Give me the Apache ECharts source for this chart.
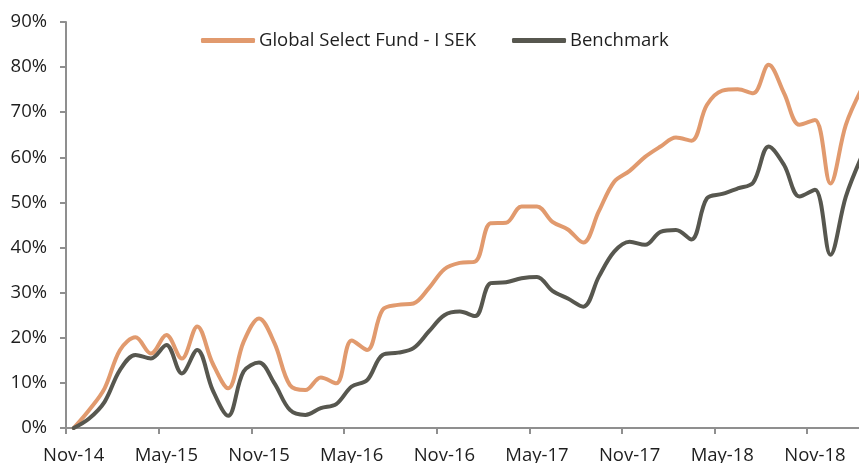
<!DOCTYPE html>
<html>
<head>
<meta charset="utf-8">
<script src="https://cdn.jsdelivr.net/npm/echarts@6/dist/echarts.min.js"></script>
<style>
html,body{margin:0;padding:0;background:#fff;overflow:hidden;}
#c{width:880px;height:463px;}
</style>
</head>
<body>
<div id="c"></div>
<script>
const categories = [
 'Nov-14','Dec-14','Jan-15','Feb-15','Mar-15','Apr-15','May-15','Jun-15','Jul-15','Aug-15','Sep-15','Oct-15',
 'Nov-15','Dec-15','Jan-16','Feb-16','Mar-16','Apr-16','May-16','Jun-16','Jul-16','Aug-16','Sep-16','Oct-16',
 'Nov-16','Dec-16','Jan-17','Feb-17','Mar-17','Apr-17','May-17','Jun-17','Jul-17','Aug-17','Sep-17','Oct-17',
 'Nov-17','Dec-17','Jan-18','Feb-18','Mar-18','Apr-18','May-18','Jun-18','Jul-18','Aug-18','Sep-18','Oct-18',
 'Nov-18','Dec-18','Jan-19','Feb-19'
];
const fundValues = [
 0, 4.0, 8.8, 17.3, 20.1, 16.5, 20.6, 15.4, 22.5, 14.3, 8.8, 19.1,
 24.3, 18.8, 9.5, 8.4, 11.2, 9.9, 19.4, 17.3, 26.2, 27.3, 27.6, 31.0,
 35.2, 36.6, 36.9, 45.4, 45.5, 49.1, 49.1, 45.7, 44.0, 41.1, 48.0, 54.6,
 57.0, 60.1, 62.4, 64.4, 63.7, 71.6, 74.8, 75.1, 74.2, 80.5, 74.2, 67.2,
 68.3, 54.2, 67.2, 75.0
];
const benchValues = [
 0, 2.1, 5.8, 12.9, 16.2, 15.4, 18.4, 12.1, 17.3, 8.4, 2.7, 12.5,
 14.5, 9.9, 4.0, 2.9, 4.4, 5.3, 9.2, 10.6, 16.2, 16.7, 17.7, 21.4,
 25.0, 25.8, 24.8, 32.1, 32.3, 33.2, 33.5, 30.4, 28.7, 26.9, 33.5, 39.1,
 41.3, 40.6, 43.5, 43.9, 41.8, 50.9, 51.9, 53.1, 54.4, 62.4, 58.3, 51.3,
 52.8, 38.4, 51.3, 60.0
];
const yTicks = [0, 10, 20, 30, 40, 50, 60, 70, 80, 90];

const FONT = 'Open Sans';
const TXT = '#1e1e1e';
const AXIS = '#8f8f8f';

const chart = echarts.init(document.getElementById('c'), null, {renderer: 'canvas'});
chart.setOption({
  animation: false,
  backgroundColor: '#fff',
  textStyle: {fontFamily: FONT},
  grid: {left: 66, right: 11, top: 22, bottom: 35, containLabel: false, outerBoundsMode: 'none'},
  legend: {
    top: 26, left: 196,
    itemWidth: 54, itemHeight: 5, itemGap: 36,
    icon: 'roundRect',
    textStyle: {fontFamily: FONT, fontSize: 18.5, color: TXT, padding: [0,0,0,-1]},
    data: ['Global Select Fund - I SEK', 'Benchmark']
  },
  xAxis: {
    type: 'category',
    data: categories,
    boundaryGap: true,
    axisLine: {lineStyle: {color: AXIS, width: 2}},
    axisTick: {show: true, interval: 5, length: 6, lineStyle: {color: AXIS, width: 2}},
    axisLabel: {interval: 5, margin: 18, fontFamily: FONT, fontSize: 18.5, color: TXT},
    splitLine: {show: false}
  },
  yAxis: {
    type: 'value',
    min: yTicks[0], max: yTicks[yTicks.length-1], interval: 10,
    axisLine: {show: true, lineStyle: {color: AXIS, width: 2}},
    axisTick: {show: true, length: 6, lineStyle: {color: AXIS, width: 2}},
    axisLabel: {margin: 19, fontFamily: FONT, fontSize: 18.5, color: TXT, formatter: v => v + '%'},
    splitLine: {show: false}
  },
  series: [
    {
      name: 'Global Select Fund - I SEK', type: 'line', data: fundValues,
      smooth: 0.35, showSymbol: false, symbol: 'none',
      lineStyle: {color: '#E19A6E', width: 4, cap: 'round', join: 'round'},
      itemStyle: {color: '#E19A6E'}, z: 2
    },
    {
      name: 'Benchmark', type: 'line', data: benchValues,
      smooth: 0.35, showSymbol: false, symbol: 'none',
      lineStyle: {color: '#57574F', width: 4, cap: 'round', join: 'round'},
      itemStyle: {color: '#57574F'}, z: 3
    }
  ]
});
</script>
</body>
</html>
